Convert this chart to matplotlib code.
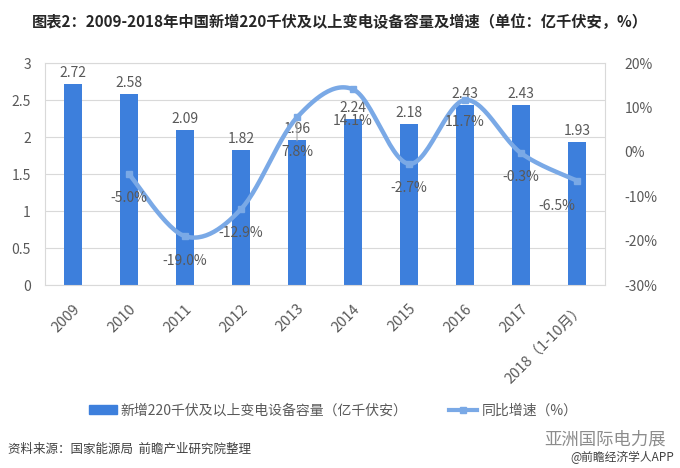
import numpy as np
import matplotlib
matplotlib.use('Agg')
import matplotlib.pyplot as plt
from matplotlib.patches import Patch
from matplotlib.lines import Line2D

plt.rcParams['font.family'] = ['Noto Sans CJK SC', 'DejaVu Sans']

# 数据
years = ['2009', '2010', '2011', '2012', '2013', '2014', '2015', '2016', '2017', '2018（1-10月）']
capacity = [2.72, 2.58, 2.09, 1.82, 1.96, 2.24, 2.18, 2.43, 2.43, 1.93]
growth = [None, -5.0, -19.0, -12.9, 7.8, 14.1, -2.7, 11.7, -0.3, -6.5]

# 标签偏移 (points)
label_dy = [0, -17, -18, -17, -25, -23, -17, -16, -17, -18]
label_dx = [0, 0, 0, 0, 0, 0, 0, 0, 0, -15]

bar_color = '#3d7fdc'
line_color = '#7aa9e6'
text_gray = '#595959'

fig = plt.figure(figsize=(6.8, 4.68), dpi=100)
ax = fig.add_axes([0.066, 0.391, 0.824, 0.474])
ax2 = ax.twinx()

x = np.arange(len(years))
ax.bar(x, capacity, width=0.33, color=bar_color, zorder=2)
for xi, v in zip(x, capacity):
    ax.annotate('%.2f' % v, (xi, v), xytext=(0, 3), textcoords='offset points',
                ha='center', va='bottom', fontsize=10, color=text_gray)

ax.set_xlim(-0.5, len(years) - 0.5)
ax.set_ylim(0, 3)
ax.set_yticks(np.arange(0, 3.01, 0.5))
ax.set_yticklabels(['0', '0.5', '1', '1.5', '2', '2.5', '3'])
ax.set_xticks(x)
ax.set_xticklabels(years, rotation=45, ha='right', rotation_mode='anchor')
ax.grid(axis='y', color='#d9d9d9', lw=0.8, zorder=0)
ax.set_axisbelow(True)
ax.tick_params(axis='y', length=0, colors=text_gray, labelsize=10, pad=10)
ax.tick_params(axis='x', length=0, colors=text_gray, labelsize=10.5, pad=12)
for s in ax.spines.values():
    s.set_color('#d9d9d9')
for s in ax2.spines.values():
    s.set_visible(False)

# 平滑曲线 (Catmull-Rom)
gx = np.array([i for i, g in enumerate(growth) if g is not None], dtype=float)
gy = np.array([g for g in growth if g is not None], dtype=float)
pts = np.column_stack([gx, gy])
ext = np.vstack([pts[0], pts, pts[-1]])
curve = []
t = np.linspace(0, 1, 30)[:, None]
for i in range(1, len(ext) - 2):
    p0, p1, p2, p3 = ext[i - 1], ext[i], ext[i + 1], ext[i + 2]
    c1 = p1 + (p2 - p0) / 6
    c2 = p2 - (p3 - p1) / 6
    seg = (1 - t) ** 3 * p1 + 3 * (1 - t) ** 2 * t * c1 + 3 * (1 - t) * t ** 2 * c2 + t ** 3 * p2
    curve.append(seg)
curve = np.vstack(curve)
ax2.plot(curve[:, 0], curve[:, 1], color=line_color, lw=3.2, zorder=3)
ax2.plot(gx, gy, ls='none', marker='s', ms=5, color=line_color, zorder=4)
for xi, v in zip(gx, gy):
    i = int(xi)
    ax2.annotate('%.1f%%' % v, (xi, v), xytext=(label_dx[i], label_dy[i]),
                 textcoords='offset points', ha='center', va='center',
                 fontsize=10, color=text_gray)
# 2013 引导线
ax2.annotate('', (gx[3], gy[3]), xytext=(0, -19), textcoords='offset points',
             arrowprops=dict(arrowstyle='-', color='#a6a6a6', lw=0.8))

ax2.set_ylim(-30, 20)
ax2.set_yticks(np.arange(-30, 21, 10))
ax2.set_yticklabels(['%d%%' % v for v in range(-30, 21, 10)])
ax2.tick_params(axis='y', length=0, colors=text_gray, labelsize=10, pad=14)

fig.text(0.5, 0.953, '图表2：2009-2018年中国新增220千伏及以上变电设备容量及增速（单位：亿千伏安，%）',
         ha='center', va='center', fontsize=11, fontweight='bold', color='#262626')

# 图例
handles = [Patch(color=bar_color),
           Line2D([0], [0], color=line_color, lw=3, marker='s', ms=5)]
fig.legend(handles, ['新增220千伏及以上变电设备容量（亿千伏安）', '同比增速（%）'],
           loc='center', bbox_to_anchor=(0.49, 0.123), ncol=2, frameon=False,
           fontsize=10, labelcolor=text_gray, handlelength=2.0, columnspacing=3.0,
           handletextpad=0.3)

fig.text(0.012, 0.04, '资料来源：国家能源局  前瞻产业研究院整理', ha='left', va='center',
         fontsize=9, style='italic', color='#404040')
fig.text(0.80, 0.06, '亚洲国际电力展', ha='left', va='center', fontsize=12.5, color='#8c8c8c')
fig.text(0.992, 0.022, '@前瞻经济学人APP', ha='right', va='center', fontsize=8.5, color='#404040')

fig.savefig('out.png', dpi=100)
